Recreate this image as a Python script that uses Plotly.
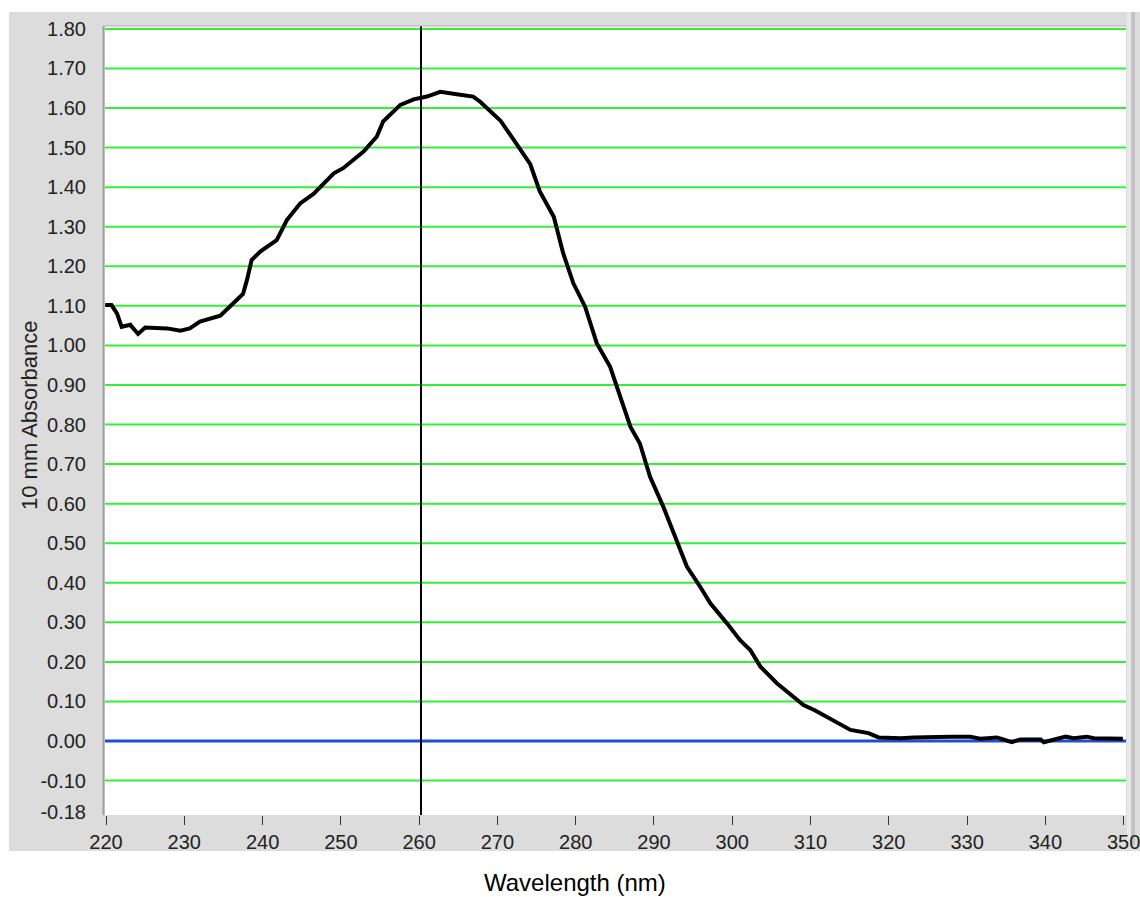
import plotly.graph_objects as go

# ---- data ----
wavelength_nm = [219.9, 220.7, 221.4, 222.0, 223.1, 224.1, 225.0, 227.8, 229.5, 230.7,
                 232.0, 233.3, 234.6, 235.4, 236.3, 237.5, 238.0, 238.6, 239.7, 241.8,
                 243.1, 244.8, 246.5, 248.2, 249.1, 250.3, 252.9, 254.6, 255.4, 257.6,
                 259.3, 261.0, 262.7, 264.8, 266.9, 267.8, 270.4, 272.0, 274.2, 275.4,
                 277.2, 278.4, 279.7, 281.2, 282.7, 284.4, 285.7, 287.0, 288.2, 289.5,
                 291.2, 292.9, 294.2, 295.9, 297.2, 299.3, 301.0, 302.3, 303.6, 305.7,
                 307.8, 309.1, 310.6, 313.0, 315.1, 317.4, 318.7, 321.5, 323.2, 327.9,
                 330.4, 331.7, 333.8, 334.6, 335.7, 336.8, 339.4, 339.8, 341.1, 342.6,
                 343.6, 345.3, 346.2, 349.9]
absorbance = [1.102, 1.102, 1.081, 1.047, 1.052, 1.029, 1.045, 1.043, 1.037, 1.043,
              1.060, 1.068, 1.075, 1.090, 1.106, 1.130, 1.165, 1.216, 1.237, 1.266,
              1.317, 1.359, 1.383, 1.418, 1.435, 1.448, 1.490, 1.528, 1.566, 1.608,
              1.622, 1.629, 1.641, 1.635, 1.629, 1.616, 1.568, 1.522, 1.458, 1.390,
              1.325, 1.233, 1.157, 1.098, 1.005, 0.946, 0.870, 0.794, 0.752, 0.668,
              0.592, 0.508, 0.441, 0.390, 0.348, 0.298, 0.255, 0.230, 0.188, 0.146,
              0.112, 0.091, 0.077, 0.051, 0.028, 0.020, 0.009, 0.007, 0.009, 0.011,
              0.011, 0.006, 0.009, 0.004, -0.003, 0.004, 0.004, -0.003, 0.004, 0.011,
              0.007, 0.011, 0.007, 0.006]
cursor_nm = 260.24
baseline_value = 0.0

x_ticks = [220, 230, 240, 250, 260, 270, 280, 290, 300, 310, 320, 330, 340, 350]
y_ticks = [-0.18, -0.10, 0.00, 0.10, 0.20, 0.30, 0.40, 0.50, 0.60, 0.70, 0.80, 0.90,
           1.00, 1.10, 1.20, 1.30, 1.40, 1.50, 1.60, 1.70, 1.80]
y_tick_text = ["%.2f" % v for v in y_ticks]
x_range = [219.87, 350.3]
y_range = [-0.187, 1.8074]

x_title = "Wavelength (nm)"
y_title = "10 mm Absorbance"

# ---- figure ----
W, H = 1140, 897
ml, mr, mt, mb = 105, 14, 26, 82
pw, ph = W - ml - mr, H - mt - mb

def px_x(p):
    return (p - ml) / pw

def px_y(p):
    return (H - mb - p) / ph

regular = "Liberation Sans, Arial, sans-serif"

fig = go.Figure()

# baseline (blue) across the full range
fig.add_trace(go.Scatter(x=x_range, y=[baseline_value, baseline_value], mode="lines",
                         line=dict(color="#1f4fd6", width=3), hoverinfo="skip",
                         showlegend=False))
# spectrum
fig.add_trace(go.Scatter(x=wavelength_nm, y=absorbance, mode="lines",
                         line=dict(color="black", width=4), showlegend=False))
# cursor
fig.add_trace(go.Scatter(x=[cursor_nm, cursor_nm], y=y_range, mode="lines",
                         line=dict(color="black", width=2), hoverinfo="skip",
                         showlegend=False))

shapes = [
    # grey frame
    dict(type="rect", xref="paper", yref="paper", layer="below",
         x0=px_x(9), x1=px_x(1141), y0=px_y(851), y1=px_y(12),
         fillcolor="#dcdcdc", line=dict(width=0)),
    # right raised strip
    dict(type="rect", xref="paper", yref="paper", layer="below",
         x0=px_x(1127), x1=px_x(1131), y0=px_y(845), y1=px_y(12),
         fillcolor="#e8e8e8", line=dict(width=0)),
    dict(type="rect", xref="paper", yref="paper", layer="below",
         x0=px_x(1131), x1=px_x(1135), y0=px_y(845), y1=px_y(12),
         fillcolor="#c4c4c4", line=dict(width=0)),
    # white plot area
    dict(type="rect", xref="paper", yref="paper", layer="below",
         x0=0, x1=1, y0=0, y1=1, fillcolor="white", line=dict(width=0)),
]
# green grid lines (none at the bottom edge, blue baseline at zero)
for v in y_ticks:
    if v == y_ticks[0] or v == baseline_value:
        continue
    shapes.append(dict(type="line", xref="paper", yref="y", layer="below",
                       x0=0, x1=1, y0=v, y1=v,
                       line=dict(color="#33f033", width=2)))
shapes += [
    # left and top border lines
    dict(type="line", xref="paper", yref="paper", layer="above",
         x0=px_x(103.5), x1=px_x(103.5), y0=0, y1=1,
         line=dict(color="#a0a0a0", width=2)),
    dict(type="line", xref="paper", yref="paper", layer="above",
         x0=px_x(103), x1=1, y0=px_y(26), y1=px_y(26),
         line=dict(color="#b0b0b0", width=1)),
]

annotations = [
    dict(text=x_title, xref="paper", yref="paper", x=px_x(575), y=px_y(882),
         xanchor="center", yanchor="middle", showarrow=False,
         font=dict(family=regular, size=24, color="black")),
    dict(text=y_title, xref="paper", yref="paper", x=px_x(30), y=px_y(415),
         xanchor="center", yanchor="middle", showarrow=False, textangle=-90,
         font=dict(family=regular, size=22, color="#222")),
]

fig.update_layout(
    width=W, height=H,
    margin=dict(l=ml, r=mr, t=mt, b=mb, pad=0, autoexpand=False),
    paper_bgcolor="white", plot_bgcolor="white",
    shapes=shapes, annotations=annotations,
    showlegend=False,
    xaxis=dict(range=x_range, tickvals=x_ticks, ticktext=[str(v) for v in x_ticks],
               showgrid=False, zeroline=False, showline=False, automargin=False,
               ticks="outside", ticklen=9, tickwidth=1, tickcolor="#333",
               ticklabeloverflow="allow",
               tickfont=dict(family=regular, size=20, color="#222")),
    yaxis=dict(range=y_range, tickvals=y_ticks, ticktext=y_tick_text,
               showgrid=False, zeroline=False, showline=False, automargin=False,
               ticks="outside", ticklen=14, tickcolor="rgba(0,0,0,0)",
               ticklabeloverflow="allow",
               tickfont=dict(family=regular, size=20, color="#222")),
)

fig.write_html("out.html")
